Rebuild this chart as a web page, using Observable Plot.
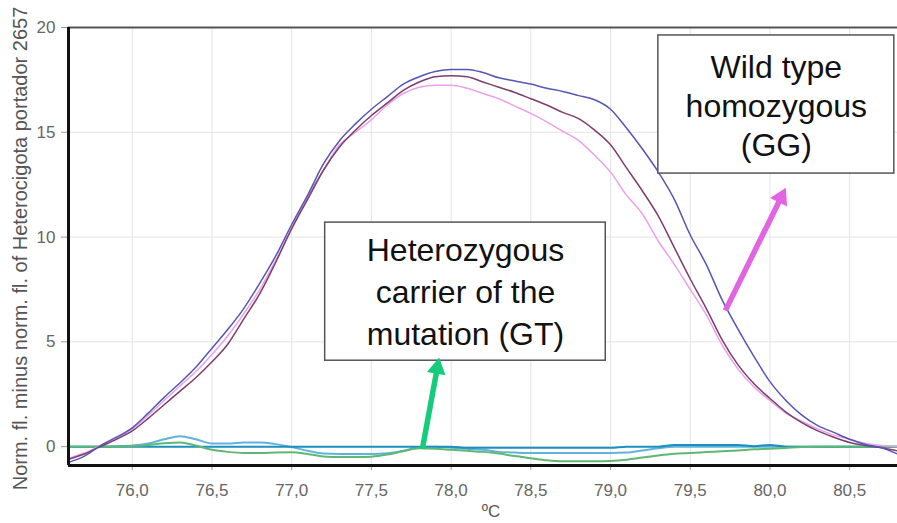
<!DOCTYPE html>
<html>
<head>
<meta charset="utf-8">
<script src="https://cdn.jsdelivr.net/npm/d3@7"></script>
<script src="https://cdn.jsdelivr.net/npm/@observablehq/plot@0.6"></script>
<style>
  html, body { margin: 0; padding: 0; background: #fff; }
  #chart svg { display: block; }
</style>
</head>
<body>
<div id="chart"></div>
<script>
// ---- Data ----
const temps = [75.6,75.7,75.8,75.9,76.0,76.1,76.2,76.3,76.4,76.5,76.6,76.7,76.8,76.9,77.0,77.1,77.2,77.3,77.4,77.5,77.6,77.7,77.8,77.9,78.0,78.1,78.2,78.3,78.4,78.5,78.6,78.7,78.8,78.9,79.0,79.1,79.2,79.3,79.4,79.5,79.6,79.7,79.8,79.9,80.0,80.1,80.2,80.3,80.4,80.5,80.6,80.7,80.8];

// Wild type homozygous (GG) samples
const wtBlue = [-0.75,-0.45,0.05,0.45,0.9,1.6,2.35,3.05,3.8,4.7,5.6,6.6,7.8,9.1,10.6,12.0,13.5,14.6,15.4,16.1,16.7,17.3,17.65,17.9,18.0,18.0,17.85,17.6,17.45,17.3,17.1,16.95,16.75,16.55,16.1,15.2,14.2,13.1,11.8,10.1,8.7,7.0,5.6,4.3,3.1,2.2,1.5,1.0,0.68,0.35,0.1,-0.05,-0.35];
const wtMaroon = [-0.6,-0.35,0.0,0.35,0.75,1.35,2.0,2.65,3.3,4.05,4.9,6.1,7.3,8.8,10.4,11.8,13.2,14.3,15.1,15.8,16.4,17.0,17.4,17.65,17.7,17.65,17.4,17.15,16.9,16.6,16.3,15.95,15.65,15.1,14.4,13.3,12.2,11.0,9.5,8.0,6.6,5.1,3.9,3.0,2.3,1.65,1.15,0.75,0.45,0.2,0.05,-0.05,-0.2];
const wtPink = [-0.55,-0.3,0.05,0.4,0.85,1.5,2.2,2.9,3.6,4.4,5.3,6.35,7.5,8.9,10.4,11.9,13.2,14.4,15.0,15.6,16.3,16.85,17.15,17.25,17.25,17.1,16.85,16.6,16.25,15.9,15.5,15.05,14.6,13.9,13.1,12.0,11.1,9.8,8.7,7.5,6.3,4.85,3.7,2.85,2.2,1.6,1.2,0.85,0.55,0.35,0.15,0.05,0.0];

// Heterozygous carriers (GT), near the reference baseline
const hetLightBlue = [0,0,0,0.02,0.05,0.15,0.35,0.5,0.35,0.15,0.15,0.2,0.2,0.12,-0.02,-0.2,-0.33,-0.35,-0.35,-0.35,-0.32,-0.2,-0.02,0,-0.05,-0.1,-0.15,-0.25,-0.28,-0.3,-0.3,-0.3,-0.3,-0.3,-0.3,-0.28,-0.18,-0.08,0,0,0,0,0,0,0,0,0,0,0,0,0,0,0];
const hetTeal = [0,0,0,0,0,0,0,0,0,0,0,0,0,0,0,0,0,0,0,0,0,0,0,0,0,-0.05,-0.05,-0.05,-0.05,-0.05,-0.05,-0.05,-0.05,-0.05,-0.05,0,0,0,0.08,0.08,0.08,0.08,0.08,0.02,0.08,0,0,0,0,0,0,0,0];
const hetGreen = [0,0,0,0,0.02,0.08,0.16,0.2,0.05,-0.15,-0.25,-0.3,-0.3,-0.28,-0.27,-0.35,-0.47,-0.5,-0.5,-0.48,-0.38,-0.22,-0.08,-0.1,-0.15,-0.2,-0.25,-0.33,-0.45,-0.55,-0.65,-0.7,-0.7,-0.7,-0.68,-0.62,-0.52,-0.42,-0.34,-0.3,-0.26,-0.22,-0.18,-0.13,-0.1,-0.06,-0.02,0,0,0,0,0,0];

const seriesNames  = ["hetLightBlue","hetTeal","hetGreen","wtPink","wtMaroon","wtBlue"];
const seriesValues = [hetLightBlue, hetTeal, hetGreen, wtPink, wtMaroon, wtBlue];
const seriesColors = ["#62b2de","#1b8fbf","#5db873","#e9a2e9","#7d3d6d","#5656b4"];
const seriesWidths = [2, 2, 2, 1.5, 1.5, 1.5];

const xDomain = [75.6, 80.8];
const yDomain = [-0.9, 20];
const xTicks = [76.0,76.5,77.0,77.5,78.0,78.5,79.0,79.5,80.0,80.5];
const yTicks = [0,5,10,15,20];
const xLabel = "ºC";
const yLabel = "Norm. fl. minus norm. fl. of Heterocigota portador 2657";

// Annotations (data coordinates)
const boxText = ["Heterozygous\ncarrier of the\nmutation (GT)", "Wild type\nhomozygous\n(GG)"];
const boxX1 = [77.21, 79.3];
const boxX2 = [78.97, 80.78];
const boxY1 = [4.1, 13.03];
const boxY2 = [10.69, 19.62];
const boxTextX = [78.09, 80.04];
const boxTextY = [7.49, 16.32];
const arrowX1 = [77.82, 79.72];
const arrowY1 = [-0.1, 6.49];
const arrowX2 = [77.925, 80.1];
const arrowY2 = [4.25, 12.36];
const arrowColors = ["#14cc7a", "#e264e2"];

// ---- Build tables ----
const rows = [];
seriesNames.forEach((name, i) => {
  seriesValues[i].forEach((v, j) => rows.push({series: name, t: temps[j], v}));
});
const boxes = boxText.map((text, i) => ({text, x1: boxX1[i], x2: boxX2[i], y1: boxY1[i], y2: boxY2[i], tx: boxTextX[i], ty: boxTextY[i]}));
const headFrac = [0.15, 0.1];
const arrows = arrowX1.map((_, i) => ({
  x1: arrowX1[i], y1: arrowY1[i], x2: arrowX2[i], y2: arrowY2[i],
  sx: arrowX2[i] - (arrowX2[i] - arrowX1[i]) * headFrac[i],
  sy: arrowY2[i] - (arrowY2[i] - arrowY1[i]) * headFrac[i],
  color: arrowColors[i]
}));
const headRotate = [10.6, 26.4];
const headDx = [-2, -4.9];
const headDy = [10.7, 9.8];
const boxLineHeight = [1.31, 1.22];

const fmt = d => d.toFixed(1).replace(".", ",");
const font = "'Liberation Sans', Arial, sans-serif";

const marks = [
  Plot.gridX(xTicks, {stroke: "#e4e4e4", strokeOpacity: 1, strokeWidth: 1}),
  Plot.gridY(yTicks, {stroke: "#e4e4e4", strokeOpacity: 1, strokeWidth: 1}),
  Plot.axisX(xTicks, {tickFormat: fmt, tickSize: 5, tickPadding: 13, fontSize: 17, color: "#666", stroke: "#999", label: null}),
  Plot.axisY(yTicks, {tickSize: 7, tickPadding: 6, fontSize: 17, color: "#666", stroke: "#999", label: null}),
];
seriesNames.forEach((name, i) => {
  marks.push(Plot.line(rows.filter(r => r.series === name), {x: "t", y: "v", stroke: seriesColors[i], strokeWidth: seriesWidths[i], curve: "monotone-x"}));
});
marks.push(
  Plot.rect(boxes, {x1: "x1", x2: "x2", y1: "y1", y2: "y2", fill: "white", stroke: "#555", strokeWidth: 1.5})
);
boxes.forEach((b, i) => {
  marks.push(Plot.text([b], {x: "tx", y: "ty", text: "text", fontSize: 32, lineHeight: boxLineHeight[i], fill: "#111", lineAnchor: "middle", textAnchor: "middle", fontFamily: font}));
});
marks.push(
  Plot.link(arrows, {x1: "x1", y1: "y1", x2: "sx", y2: "sy", stroke: "color", strokeWidth: 5.5})
);
arrows.forEach((a, i) => {
  marks.push(Plot.dot([a], {x: "x2", y: "y2", symbol: "triangle", r: 7, fill: "color", stroke: "none", rotate: headRotate[i], dx: headDx[i], dy: headDy[i]}));
});
marks.push(
  Plot.ruleY([yDomain[1]], {stroke: "#555", strokeWidth: 2}),
  Plot.ruleX([xDomain[0]], {stroke: "#111", strokeWidth: 3}),
  Plot.ruleY([yDomain[0]], {stroke: "#111", strokeWidth: 3}),
  Plot.text([xLabel], {frameAnchor: "bottom", dx: 8, dy: 46, fontSize: 17, fill: "#555", lineAnchor: "middle", textAnchor: "middle"}),
  Plot.text([yLabel], {frameAnchor: "left", rotate: -90, dx: -48, dy: 2, fontSize: 20, fill: "#555", lineAnchor: "middle", textAnchor: "middle"})
);

const chart = Plot.plot({
  width: 897,
  height: 523,
  marginLeft: 68,
  marginRight: 0,
  marginTop: 27,
  marginBottom: 58,
  x: {domain: xDomain},
  y: {domain: yDomain},
  style: {fontFamily: font, background: "white", overflow: "visible"},
  marks
});
document.getElementById("chart").appendChild(chart);
</script>
</body>
</html>
